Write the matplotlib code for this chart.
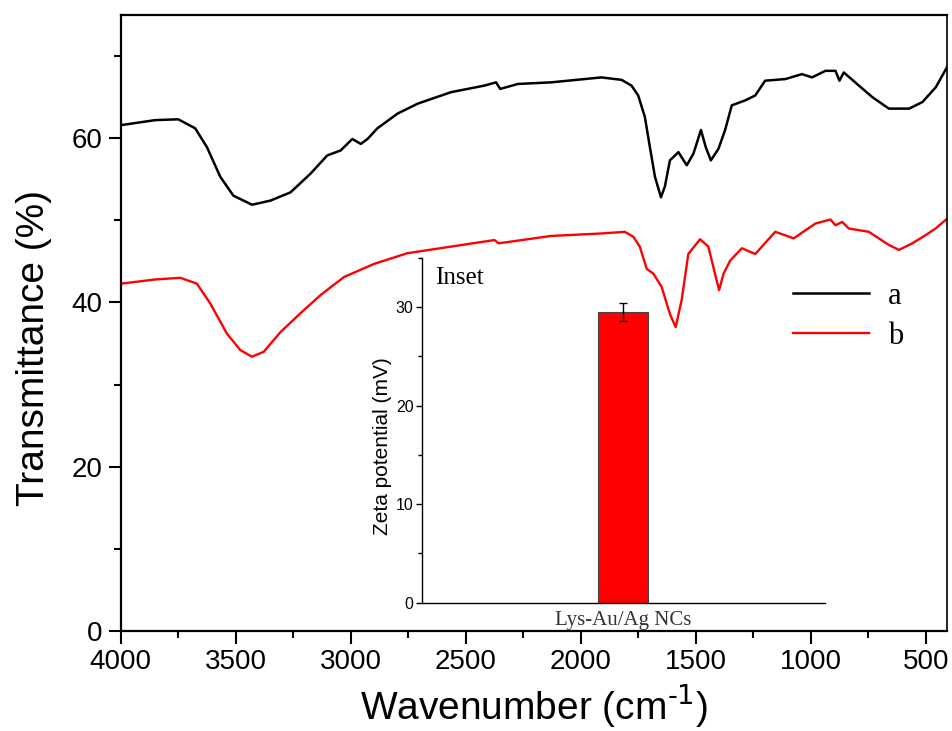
import matplotlib
matplotlib.use('Agg')
import matplotlib.pyplot as plt
from matplotlib.ticker import MultipleLocator

plt.rcParams['font.family'] = 'Liberation Sans'
plt.rcParams['mathtext.default'] = 'regular'

# FTIR spectrum a (black)
wn_a = [3996, 3850, 3750, 3676, 3625, 3567, 3510, 3429, 3349, 3262, 3174, 3102, 3044,
        2993, 2956, 2927, 2884, 2796, 2709, 2564, 2419, 2368, 2350, 2273, 2128, 1910,
        1822, 1779, 1750, 1721, 1699, 1677, 1651, 1634, 1612, 1575, 1539, 1510, 1477,
        1456, 1434, 1401, 1372, 1343, 1285, 1241, 1198, 1110, 1038, 994, 936, 892, 875,
        856, 790, 732, 660, 572, 514, 456, 398]
tr_a = [61.6, 62.2, 62.3, 61.2, 58.9, 55.3, 53.0, 51.9, 52.4, 53.4, 55.7, 57.9, 58.5,
        59.9, 59.3, 59.9, 61.2, 63.0, 64.2, 65.6, 66.4, 66.8, 66.0, 66.6, 66.8, 67.4,
        67.1, 66.4, 65.2, 62.6, 58.9, 55.3, 52.8, 54.1, 57.3, 58.3, 56.7, 58.1, 61.0,
        58.9, 57.3, 58.7, 61.0, 64.0, 64.6, 65.2, 67.0, 67.2, 67.8, 67.4, 68.2, 68.2, 67.0,
        68.0, 66.4, 65.0, 63.6, 63.6, 64.4, 66.2, 69.1]

# FTIR spectrum b (red)
wn_b = [3996, 3850, 3741, 3669, 3611, 3538, 3480, 3429, 3378, 3305, 3218, 3131, 3029,
        2898, 2753, 2564, 2375, 2357, 2128, 1910, 1808, 1771, 1743, 1713, 1684, 1648,
        1612, 1587, 1561, 1532, 1481, 1445, 1416, 1398, 1379, 1350, 1299, 1241, 1154,
        1103, 1074, 980, 914, 892, 863, 834, 747, 660, 616, 558, 500, 457, 398]
tr_b = [42.3, 42.8, 43.0, 42.3, 39.9, 36.2, 34.2, 33.4, 34.0, 36.4, 38.7, 40.9, 43.1,
        44.7, 46.0, 46.8, 47.6, 47.2, 48.1, 48.4, 48.6, 48.0, 46.8, 44.1, 43.5, 41.9,
        38.6, 37.0, 40.3, 45.9, 47.7, 46.8, 43.5, 41.5, 43.5, 45.1, 46.6, 45.9, 48.6,
        48.1, 47.8, 49.6, 50.1, 49.4, 49.8, 49.0, 48.6, 47.0, 46.4, 47.2, 48.2, 49.0, 50.4]

# inset: zeta potential
samples = ['Lys-Au/Ag NCs']
zeta = [29.5]
zeta_err = [0.9]

fig = plt.figure(figsize=(9.52, 7.31), dpi=100)
ax = fig.add_axes([0.1268, 0.1368, 0.8680, 0.8427])

ax.plot(wn_a, tr_a, color='black', linewidth=1.8, label='a')
ax.plot(wn_b, tr_b, color='#ff0000', linewidth=1.7, label='b')

ax.set_xlim(4000, 407)
ax.set_ylim(0, 75)
ax.set_xticks([4000, 3500, 3000, 2500, 2000, 1500, 1000, 500])
ax.xaxis.set_minor_locator(MultipleLocator(250))
ax.set_yticks([0, 20, 40, 60])
ax.yaxis.set_minor_locator(MultipleLocator(10))
ax.tick_params(which='major', direction='out', length=9, width=1.5, labelsize=20, pad=4)
ax.tick_params(which='minor', direction='out', length=5, width=1.5)
ax.tick_params(top=False, right=False)
for side in ['left', 'bottom', 'top']:
    ax.spines[side].set_linewidth(1.6)
ax.spines['right'].set_linewidth(1.2)

ax.set_xlabel('Wavenumber (cm$^{\\text{-1}}$)', fontsize=28)
ax.set_ylabel('Transmittance (%)', fontsize=28)
ax.xaxis.set_label_coords(0.5, -0.083)
ax.yaxis.set_label_coords(-0.083, 0.459)

leg = ax.legend(loc='center left', bbox_to_anchor=(0.8136, 0.5106), frameon=False,
                prop={'family': 'Liberation Serif', 'size': 22}, handlelength=2.5,
                handletextpad=0.6, labelspacing=0.35, borderpad=0, borderaxespad=0)

# inset bar chart
ins = fig.add_axes([0.4430, 0.1755, 0.4236, 0.4716])
ins.patch.set_alpha(0)
ins.bar([0], zeta, width=0.248, color='#ff0000', edgecolor='#444444', linewidth=0.8,
        yerr=zeta_err, error_kw={'ecolor': 'black', 'elinewidth': 1, 'capsize': 3, 'capthick': 1})
ins.set_xlim(-1, 1)
ins.set_ylim(0, 35)
ins.set_xticks([0])
ins.set_xticklabels(samples, fontfamily='Liberation Serif', fontsize=15, color='#333333')
ins.tick_params(axis='x', length=0, pad=6)
ins.set_yticks([0, 10, 20, 30])
ins.yaxis.set_minor_locator(MultipleLocator(5))
ins.tick_params(axis='y', which='major', direction='out', length=4, width=1, labelsize=11.5, pad=2)
ins.tick_params(axis='y', which='minor', direction='out', length=3, width=1)
ins.spines['top'].set_visible(False)
ins.spines['right'].set_visible(False)
ins.spines['left'].set_linewidth(1)
ins.spines['bottom'].set_linewidth(1)
ins.set_ylabel('Zeta potential (mV)', fontsize=15)
ins.yaxis.set_label_coords(-0.074, 0.455)
ins.text(0.033, 0.975, 'Inset', transform=ins.transAxes, ha='left', va='top',
         fontfamily='Liberation Serif', fontsize=18)

fig.savefig('out.png', dpi=100)
